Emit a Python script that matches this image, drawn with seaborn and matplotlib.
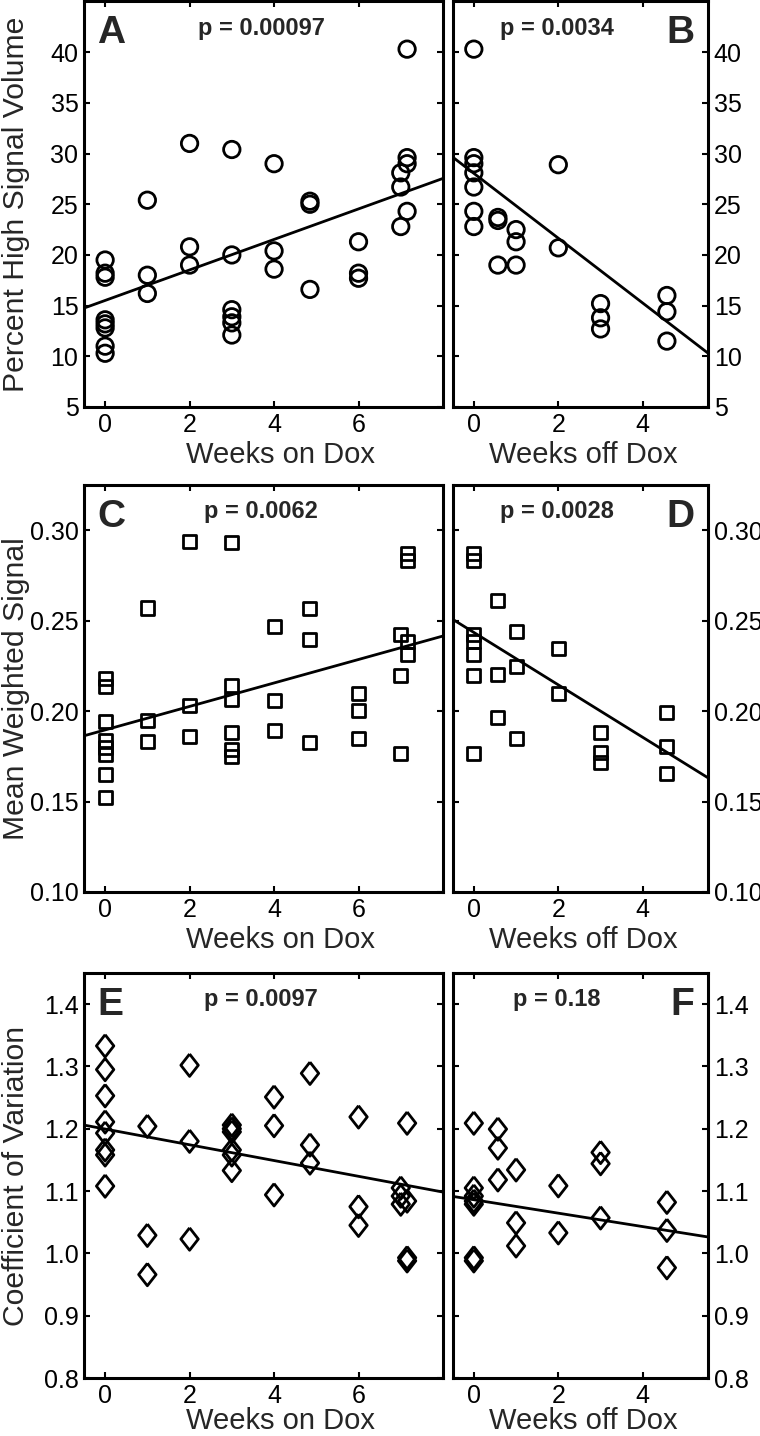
import matplotlib
matplotlib.use("Agg")
import matplotlib.pyplot as plt
import seaborn as sns
import numpy as np

# ---------------- data ----------------
weeks_on = [0, 0, 0, 0, 0, 0, 0, 0,
            1, 1, 1,
            2, 2, 2,
            3, 3, 3, 3, 3, 3,
            4, 4, 4,
            4.85, 4.85, 4.85,
            6, 6, 6,
            7.0, 7.0, 7.0,
            7.15, 7.15, 7.15, 7.15]
weeks_off = [0, 0, 0, 0, 0, 0, 0,
             0.57, 0.57, 0.57,
             1.0, 1.0, 1.0,
             2, 2,
             3, 3, 3,
             4.57, 4.57, 4.57]

volume_on = [19.5, 18.2, 17.8, 13.6, 13.2, 12.8, 11.0, 10.3,
             25.4, 18.0, 16.2,
             31.0, 20.8, 19.0,
             30.4, 20.0, 14.6, 13.9, 13.3, 12.1,
             29.0, 20.4, 18.6,
             25.3, 25.0, 16.6,
             21.3, 18.2, 17.7,
             28.1, 26.7, 22.8,
             40.3, 29.6, 29.0, 24.3]
volume_off = [40.3, 29.6, 29.0, 28.1, 26.7, 24.3, 22.8,
              23.7, 23.4, 19.0,
              22.5, 21.3, 19.0,
              28.9, 20.7,
              15.2, 13.8, 12.7,
              16.0, 14.4, 11.5]

signal_on = [0.218, 0.2135, 0.194, 0.184, 0.180, 0.176, 0.165, 0.152,
             0.257, 0.195, 0.183,
             0.294, 0.203, 0.186,
             0.293, 0.2144, 0.2065, 0.188, 0.179, 0.175,
             0.2466, 0.2061, 0.1892,
             0.2566, 0.2398, 0.1826,
             0.2098, 0.2003, 0.1846,
             0.2426, 0.2196, 0.1767,
             0.287, 0.283, 0.2384, 0.2314]
signal_off = [0.287, 0.283, 0.2426, 0.2384, 0.2314, 0.2196, 0.1767,
              0.2614, 0.2203, 0.1966,
              0.2439, 0.2245, 0.1846,
              0.2347, 0.2098,
              0.1881, 0.1773, 0.1717,
              0.1993, 0.1804, 0.1657]

cv_on = [1.333, 1.295, 1.253, 1.211, 1.193, 1.166, 1.158, 1.108,
         1.204, 1.029, 0.966,
         1.302, 1.180, 1.023,
         1.206, 1.200, 1.195, 1.166, 1.158, 1.133,
         1.251, 1.205, 1.094,
         1.289, 1.174, 1.145,
         1.219, 1.075, 1.045,
         1.105, 1.079, 1.092,
         1.209, 1.084, 0.993, 0.988]
cv_off = [1.209, 1.105, 1.092, 1.084, 1.079, 0.993, 0.988,
          1.1995, 1.169, 1.118,
          1.134, 1.049, 1.012,
          1.1085, 1.033,
          1.162, 1.144, 1.057,
          1.082, 1.037, 0.977]

# regression fits: (intercept at week 0, slope per week)
fit_volume_on = (15.51, 1.505)
fit_volume_off = (28.05, -3.20)
fit_signal_on = (0.1896, 0.00649)
fit_signal_off = (0.2435, -0.0145)
fit_cv_on = (1.1996, -0.01265)
fit_cv_off = (1.0861, -0.01078)

p_values = ["p = 0.00097", "p = 0.0034", "p = 0.0062", "p = 0.0028", "p = 0.0097", "p = 0.18"]
panel_letters = ["A", "B", "C", "D", "E", "F"]
ylabels = ["Percent High Signal Volume", "Mean Weighted Signal", "Coefficient of Variation"]
xlabel_on = "Weeks on Dox"
xlabel_off = "Weeks off Dox"

# ---------------- style ----------------
sns.set_style("ticks")
plt.rcParams['font.family'] = ['Liberation Sans', 'DejaVu Sans']
plt.rcParams['axes.linewidth'] = 2.2

fig = plt.figure(figsize=(7.6, 14.36), dpi=100)
W, H = 760.0, 1436.0

def add_ax(left, top, right, bottom):
    return fig.add_axes([left / W, 1 - bottom / H, (right - left) / W, (bottom - top) / H])

rows = [(1.5, 407), (485, 892), (973, 1378)]
left_box = (84, 443)
right_box = (452.7, 708.3)
xlabel_y = [-0.139, -0.137, -0.125]

diamond = [(0, 1), (0.78, 0), (0, -1), (-0.78, 0), (0, 1)]
markers = ['o', 's', diamond]
sizes = [140, 88, 260]
ylims = [(5, 45), (0.1, 0.325), (0.8, 1.45)]
yticks = [np.arange(5, 41, 5), np.arange(0.10, 0.301, 0.05), np.arange(0.8, 1.401, 0.1)]
yfmt = ["{:.0f}", "{:.2f}", "{:.1f}"]
on_data = [volume_on, signal_on, cv_on]
off_data = [volume_off, signal_off, cv_off]
on_fits = [fit_volume_on, fit_signal_on, fit_cv_on]
off_fits = [fit_volume_off, fit_signal_off, fit_cv_off]

for r in range(3):
    top, bot = rows[r]
    for c in range(2):
        if c == 0:
            ax = add_ax(left_box[0], top, left_box[1], bot)
            xs, ys = weeks_on, on_data[r]
            fit = on_fits[r]
            xlim = (-0.5, 8)
            xt = [0, 2, 4, 6]
        else:
            ax = add_ax(right_box[0], top, right_box[1], bot)
            xs, ys = weeks_off, off_data[r]
            fit = off_fits[r]
            xlim = (-0.5, 5.55)
            xt = [0, 2, 4]
        ax.set_xlim(xlim)
        ax.set_ylim(ylims[r])
        sns.regplot(x=np.array(xs), y=np.array(ys), ax=ax, fit_reg=False,
                    marker=markers[r],
                    scatter_kws=dict(s=sizes[r], facecolors='none', edgecolors='black',
                                     linewidths=2.0, alpha=1, zorder=3))
        x_line = np.array(xlim, dtype=float)
        y_line = fit[0] + fit[1] * x_line
        sns.lineplot(x=x_line, y=y_line, ax=ax, color='black', lw=2.0, zorder=2)
        ax.set_xlim(xlim)
        ax.set_ylim(ylims[r])
        ax.set_xticks(xt)
        ax.set_xticklabels([str(v) for v in xt])
        ax.set_yticks(yticks[r])
        ax.set_yticklabels([yfmt[r].format(v) for v in yticks[r]])
        ax.tick_params(direction='in', length=4, width=1.5, top=True, right=True,
                       labelsize=18, pad=4, colors='black')
        for sp in ax.spines.values():
            sp.set_linewidth(2.2)
            sp.set_color('black')
        idx = r * 2 + c
        if c == 0:
            ax.set_ylabel(ylabels[r], fontsize=21.7)
            ax.yaxis.set_label_coords(-0.15, 0.5)
            ax.set_xlabel(xlabel_on, fontsize=21)
            ax.xaxis.set_label_coords(0.547, xlabel_y[r])
            ax.text(0.036, 0.897, panel_letters[idx], transform=ax.transAxes,
                    fontsize=28, fontweight='bold', ha='left', va='baseline')
            ax.text(0.493, 0.918, p_values[idx], transform=ax.transAxes,
                    fontsize=17, fontweight='bold', ha='center', va='baseline')
        else:
            ax.tick_params(labelleft=False, labelright=True)
            ax.set_ylabel("")
            ax.set_xlabel(xlabel_off, fontsize=21)
            ax.xaxis.set_label_coords(0.511, xlabel_y[r])
            ax.text(0.945, 0.897, panel_letters[idx], transform=ax.transAxes,
                    fontsize=28, fontweight='bold', ha='right', va='baseline')
            ax.text(0.408, 0.918, p_values[idx], transform=ax.transAxes,
                    fontsize=17, fontweight='bold', ha='center', va='baseline')
        ax.xaxis.label.set_va('baseline')

fig.savefig("out.png", dpi=100, facecolor='white')
